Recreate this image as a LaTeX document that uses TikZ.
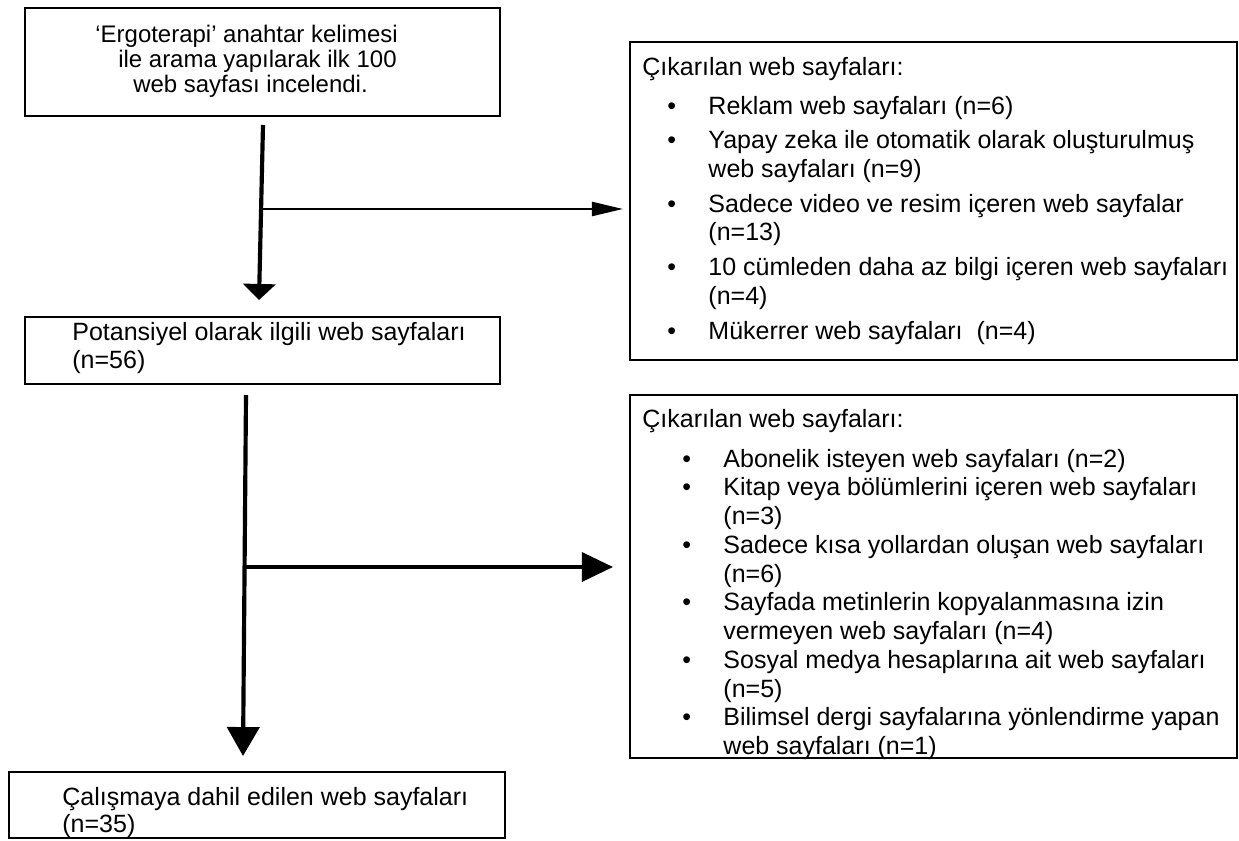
\documentclass[tikz,border=0pt]{standalone}
\usepackage{fontspec}
\setmainfont{Liberation Sans}
\usetikzlibrary{arrows.meta}
\newcommand{\bullitem}[2]{\hspace*{#1}\makebox[19.7pt][l]{\textbullet}#2}
\newcommand{\contitem}[2]{\hspace*{\dimexpr#1+19.7pt\relax}#2}

\begin{document}
\begin{tikzpicture}[x=0.48pt, y=-0.48pt,
                box/.style={draw, line width=1pt, inner sep=0pt, outer sep=0pt, anchor=north west},
                txt/.style={inner sep=0pt, anchor=base west, align=left, font=\fontsize{12}{13.8}\selectfont},
                mainline/.style={line width=2pt},
                sideline/.style={line width=1.2pt}]
                \useasboundingbox (0,0) rectangle (1239,840);
                \node[box, minimum width=228pt, minimum height=51.84pt] (search) at (25,8) {};
                \node[box, minimum width=228pt, minimum height=32.16pt] (potential) at (25,317) {};
                \node[box, minimum width=238pt, minimum height=31.68pt] (included) at (9,772) {};
                \node[box, minimum width=291.36pt, minimum height=152.64pt] (excl1) at (630,42) {};
                \node[box, minimum width=291.36pt, minimum height=174.24pt] (excl2) at (630,395) {};
                \node[txt, font=\fontsize{11.5}{12}\selectfont] (searchtxt) at (95,92)
                    {‘Ergoterapi’ anahtar kelimesi\\
                     \hspace*{11pt}ile arama yapılarak ilk 100\\
                     \hspace*{18.2pt}web sayfası incelendi.};
                \node[txt, font=\fontsize{12}{13.44}\selectfont] (potentialtxt) at (72,368)
                    {Potansiyel olarak ilgili web sayfaları\\(n=56)};
                \node[txt, font=\fontsize{12}{13.2}\selectfont] (includedtxt) at (62,832.5)
                    {Çalışmaya dahil edilen web sayfaları\\(n=35)};
                \node[txt] (excl1txt) at (642,339)
                    {Çıkarılan web sayfaları:\\[4.9pt]
                     \bullitem{12pt}{Reklam web sayfaları (n=6)}\\[2.85pt]
                     \bullitem{12pt}{Yapay zeka ile otomatik olarak oluşturulmuş}\\
                     \contitem{12pt}{web sayfaları (n=9)}\\[2.85pt]
                     \bullitem{12pt}{Sadece video ve resim içeren web sayfalar}\\
                     \contitem{12pt}{(n=13)}\\[2.85pt]
                     \bullitem{12pt}{10 cümleden daha az bilgi içeren web sayfaları}\\
                     \contitem{12pt}{(n=4)}\\[2.85pt]
                     \bullitem{12pt}{Mükerrer web sayfaları~ (n=4)}};
                \node[txt] (excl2txt) at (642,754.5)
                    {Çıkarılan web sayfaları:\\[5.4pt]
                     \bullitem{19.2pt}{Abonelik isteyen web sayfaları (n=2)}\\
                     \bullitem{19.2pt}{Kitap veya bölümlerini içeren web sayfaları}\\
                     \contitem{19.2pt}{(n=3)}\\
                     \bullitem{19.2pt}{Sadece kısa yollardan oluşan web sayfaları}\\
                     \contitem{19.2pt}{(n=6)}\\
                     \bullitem{19.2pt}{Sayfada metinlerin kopyalanmasına izin}\\
                     \contitem{19.2pt}{vermeyen web sayfaları (n=4)}\\
                     \bullitem{19.2pt}{Sosyal medya hesaplarına ait web sayfaları}\\
                     \contitem{19.2pt}{(n=5)}\\
                     \bullitem{19.2pt}{Bilimsel dergi sayfalarına yönlendirme yapan}\\
                     \contitem{19.2pt}{web sayfaları (n=1)}};
                \coordinate (s1) at (263,125);
                \coordinate (s2) at (259,300);
                \coordinate (b1) at (261,209);
                \coordinate (e1) at (623,209);
                \coordinate (p1) at (246,395);
                \coordinate (p2) at (243,756);
                \coordinate (b2) at (245,567);
                \coordinate (e2) at (613,567);
                \draw[mainline, -{Triangle[width=15.4pt, length=7.7pt]}] (s1) -- (s2);
                \draw[sideline, -{Triangle[width=6.7pt, length=14.9pt]}] (b1) -- (e1);
                \draw[mainline, -{Triangle[width=15.4pt, length=13.9pt]}] (p1) -- (p2);
                \draw[sideline, line width=1.6pt, -{Triangle[width=13.9pt, length=14.9pt]}] (b2) -- (e2);
            \end{tikzpicture}
\end{document}
